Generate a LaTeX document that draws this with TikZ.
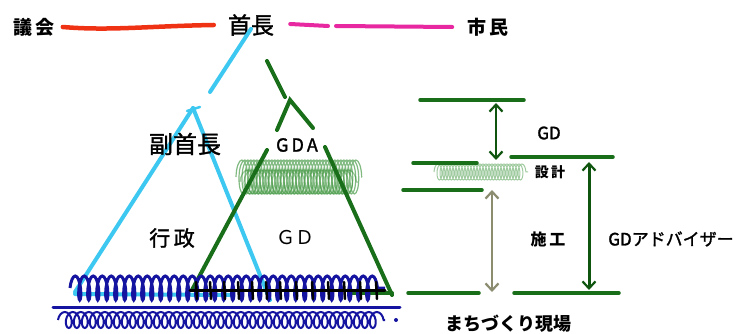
\documentclass[tikz,border=0pt]{standalone}
\usepackage{fontspec}
\newfontfamily\jp{Noto Sans CJK JP}
\newfontfamily\jpm[FakeBold=1.6]{Noto Sans CJK JP}
\newfontfamily\jpb{Noto Sans CJK JP}
\usetikzlibrary{arrows.meta,decorations.pathmorphing}
\definecolor{redline}{RGB}{240,50,20}
\definecolor{magline}{RGB}{232,40,160}
\definecolor{cyanline}{RGB}{60,200,240}
\definecolor{dkgreen}{RGB}{25,110,25}
\definecolor{dkgreenB}{RGB}{15,85,15}
\definecolor{ltgreen}{RGB}{45,140,45}
\definecolor{grayarrow}{RGB}{140,140,112}
\definecolor{blueink}{RGB}{20,20,160}
\tikzset{
  lbl/.style={inner sep=0pt, font=\jp\fontsize{#1}{#1}\selectfont},
  lbl/.default=17,
  mlbl/.style={inner sep=0pt, font=\jpm\fontsize{#1}{#1}\selectfont},
  blbl/.style={inner sep=0pt, font=\jpb\bfseries\fontsize{#1}{#1}\selectfont},
  pen/.style={line width=4pt, line cap=round, draw=#1},
  twohead/.style={{Straight Barb[length=7pt,width=13pt,line width=2.2pt]}-{Straight Barb[length=7pt,width=13pt,line width=2.2pt]}, line width=2.6pt},
  scribble/.style={draw=#1, decorate, decoration={coil, amplitude=10pt, segment length=7pt}}
}
\begin{document}
\begin{tikzpicture}[x=1pt,y=-1pt]
\useasboundingbox[fill=white] (0,0) rectangle (742,334);

% top texts
\node[blbl=19] (gikai) at (34,27) {議\,会};
\node[mlbl=23] (shucho) at (251,25) {首長};
\node[blbl=19] (shimin) at (488,27) {市\,民};

% red and magenta lines
\draw[pen=redline, line width=4.5pt] ([xshift=8pt]gikai.east) .. controls (110,31) and (150,26) .. ([xshift=-14pt]shucho.west);
\draw[pen=magline] ([xshift=16pt,yshift=1pt]shucho.east) -- (328,26);
\draw[pen=magline] (336,26) -- ([xshift=-15pt]shimin.west);

% light green scribbles
\draw[scribble=ltgreen, opacity=0.6, line width=1.2pt, decoration={coil, amplitude=17pt, segment length=3pt, aspect=0.3}] (236,177) -- (362,177);
\draw[scribble=ltgreen, opacity=0.45, line width=1.2pt, decoration={coil, amplitude=12pt, segment length=4pt, aspect=0.6}] (240,182) -- (358,182);
\draw[scribble=ltgreen, opacity=0.45, line width=1pt, decoration={coil, amplitude=8pt, segment length=3pt, aspect=0.4}] (434,172) -- (528,172);

% cyan lines (administration)
\coordinate (capex) at (193,108);
\draw[pen=cyanline] ([yshift=7pt]shucho.south) -- (210,92);
\draw[pen=cyanline] (capex) -- (75,292);
\draw[pen=cyanline] (capex) -- (270,300);
\draw[pen=cyanline] (75,294) -- (230,295);
\draw[pen=cyanline, line width=2.5pt] (187,111) -- (200,107);

% green lines (GD)
\coordinate (gapex) at (290,100);
\draw[pen=dkgreen] (267,61) -- (285,97);
\draw[pen=dkgreen] (277,130) -- (gapex) -- (313,128);
\draw[pen=dkgreen] (267,150) -- (192,290);
\draw[pen=dkgreen] (325,147) -- (392,295);
\draw[pen=dkgreen] (350,293) -- (392,293);

% blue scribble
\draw[scribble=blueink, line width=3pt, decoration={coil, amplitude=12pt, segment length=9pt, aspect=0.25}] (70,288) -- (385,288);
\draw[draw=blueink, line width=3pt, line cap=round] (53,307) -- (400,307);
\draw[scribble=blueink, line width=2pt, decoration={coil, amplitude=8pt, segment length=8pt, aspect=0.6}] (58,320) -- (385,320);
\fill[blueink] (396,320) circle (2pt);

% black ticked line
\draw[line width=3pt, line cap=round] (190,290) -- (385,290);
\foreach \x in {196,210,224,238,252,266,280,296,312,328,344,360,376}
  \draw[line width=2.5pt, line cap=round] (\x,282) -- (\x+1,299);

% triangle labels
\node[mlbl=24] (fuku) at (185,144) {副首長};
\node[mlbl=18] (gda) at (297,145) {G\,D\,A};
\node[mlbl=21] (gyosei) at (172,238) {行\,政};
\node[lbl=19] (gdmid) at (295,238) {ＧＤ};

% right side levels
\coordinate (l1a) at (420,100); \coordinate (l1b) at (524,100);
\coordinate (l2a) at (511,157); \coordinate (l2b) at (613,157);
\coordinate (l3a) at (413,163); \coordinate (l3b) at (477,163);
\coordinate (l4a) at (403,190); \coordinate (l4b) at (482,190);
\coordinate (l5a) at (408,293); \coordinate (l5b) at (479,293);
\coordinate (l6a) at (514,293); \coordinate (l6b) at (619,293);
\foreach \a/\b in {l1a/l1b,l2a/l2b,l3a/l3b,l4a/l4b,l5a/l5b,l6a/l6b}
  \draw[pen=dkgreen, line width=3.5pt] (\a) -- (\b);

\coordinate (a1t) at (496,103); \coordinate (a1b) at (496,160);
\coordinate (a2t) at (492,190); \coordinate (a2b) at (492,292);
\coordinate (a3t) at (589,162); \coordinate (a3b) at (589,290);
\draw[twohead, draw=dkgreenB] (a1t) -- (a1b);
\draw[twohead, draw=grayarrow] (a2t) -- (a2b);
\draw[twohead, draw=dkgreenB, line width=3pt] (a3t) -- (a3b);

\node[mlbl=17] (gdr) at (549,133) {GD};
\node[blbl=14] (sekkei) at (550,172) {設\,計};
\node[blbl=16] (seko) at (548,239) {施\,工};
\node[mlbl=17] (gdadv) at (671,239) {GDアドバイザー};
\node[blbl=18] (genba) at (508,324) {まちづくり現場};
\end{tikzpicture}
\end{document}
